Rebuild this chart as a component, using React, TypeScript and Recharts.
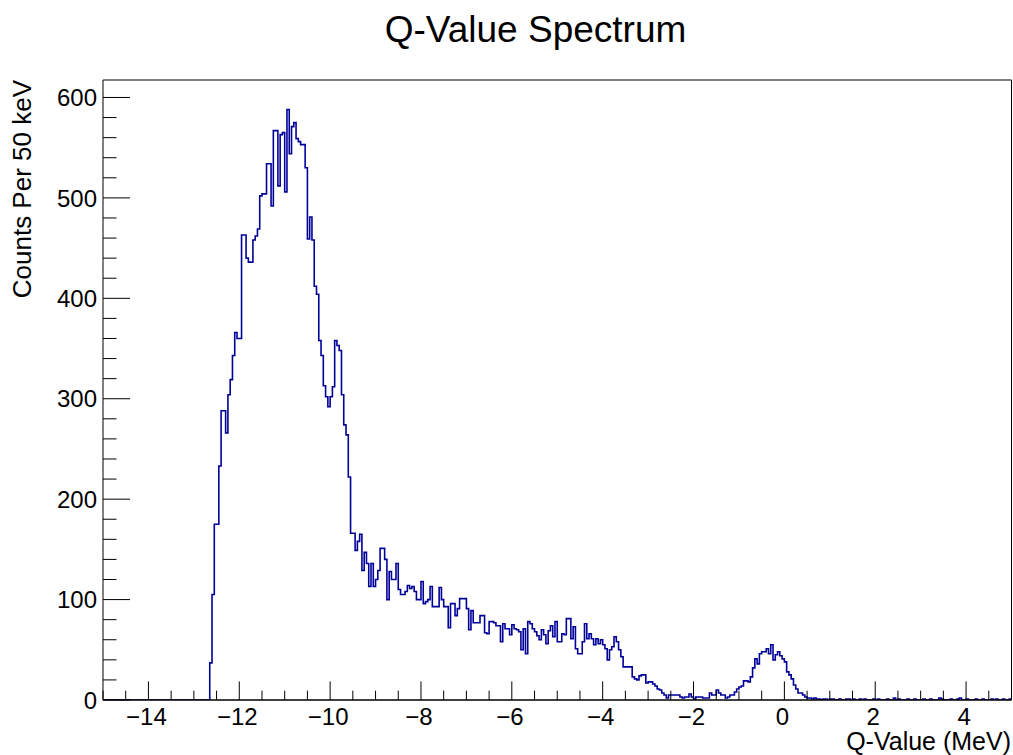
import React from 'react';
import { LineChart, Line, XAxis, YAxis, ReferenceLine } from 'recharts';

// Histogram: Q-value, 400 bins of 50 keV from -15 MeV to +5 MeV
const Q_MIN = -15;
const Q_MAX = 5;
const BIN_WIDTH = 0.05;
const Y_MAX = 617.4;

const counts: number[] = [
  0, 0, 0, 0, 0, 0, 0, 0, 0, 0,
  0, 0, 0, 0, 0, 0, 0, 0, 0, 0,
  0, 0, 0, 0, 0, 0, 0, 0, 0, 0,
  0, 0, 0, 0, 0, 0, 0, 0, 0, 0,
  0, 0, 0, 0, 0, 0, 0, 37, 105, 175,
  175, 233, 288, 288, 266, 304, 319, 343, 366, 360,
  360, 463, 463, 440, 436, 436, 458, 462, 469, 502,
  504, 504, 534, 534, 492, 567, 567, 512, 563, 565,
  506, 588, 544, 571, 575, 559, 556, 553, 553, 530,
  459, 481, 458, 412, 404, 358, 343, 313, 302, 292,
  302, 312, 358, 353, 348, 304, 274, 264, 222, 166,
  166, 149, 158, 165, 129, 147, 136, 113, 136, 113,
  120, 129, 151, 151, 140, 100, 128, 120, 120, 136,
  110, 105, 105, 108, 114, 111, 113, 108, 100, 100,
  118, 96, 98, 100, 113, 93, 93, 93, 112, 100,
  93, 93, 72, 96, 96, 84, 91, 101, 101, 101,
  91, 70, 89, 77, 77, 77, 84, 84, 67, 66,
  78, 78, 77, 74, 74, 58, 76, 71, 71, 65,
  75, 71, 70, 68, 50, 71, 46, 78, 76, 71,
  68, 64, 60, 70, 65, 56, 69, 74, 63, 78,
  58, 58, 66, 65, 81, 81, 61, 73, 51, 46,
  46, 58, 76, 61, 66, 61, 55, 61, 56, 60,
  55, 51, 40, 50, 53, 63, 58, 50, 43, 33,
  33, 33, 33, 23, 21, 20, 24, 25, 25, 17,
  18, 18, 16, 14, 11, 10, 7, 5, 2, 5,
  5, 5, 5, 5, 3, 2, 3, 3, 6, 3,
  1, 3, 3, 3, 2, 2, 2, 7, 5, 5,
  10, 7, 5, 5, 2, 3, 5, 5, 8, 11,
  13, 14, 19, 19, 18, 23, 32, 41, 36, 46,
  48, 48, 51, 46, 55, 40, 45, 48, 44, 41,
  38, 28, 25, 21, 15, 11, 7, 7, 5, 3,
  2, 2, 1, 2, 1, 1, 0, 1, 1, 0,
  1, 1, 0, 0, 1, 0, 0, 1, 1, 0,
  1, 0, 0, 1, 0, 1, 0, 0, 0, 1,
  0, 1, 0, 0, 0, 1, 0, 0, 2, 0,
  1, 0, 0, 0, 1, 0, 0, 1, 0, 0,
  0, 1, 0, 0, 1, 0, 0, 0, 2, 1,
  0, 0, 0, 1, 0, 0, 1, 2, 0, 0,
  1, 0, 0, 0, 1, 0, 0, 1, 0, 0,
  0, 1, 0, 1, 0, 0, 1, 0, 0, 1,
];

const X_TICKS: number[] = [
  -15, -14.5, -14, -13.5, -13, -12.5, -12, -11.5, -11, -10.5,
  -10, -9.5, -9, -8.5, -8, -7.5, -7, -6.5, -6, -5.5,
  -5, -4.5, -4, -3.5, -3, -2.5, -2, -1.5, -1, -0.5,
  0, 0.5, 1, 1.5, 2, 2.5, 3, 3.5, 4, 4.5, 5,
];
const X_LABELED: number[] = [-14, -12, -10, -8, -6, -4, -2, 0, 2, 4];

const Y_TICKS: number[] = [
  0, 20, 40, 60, 80, 100, 120, 140, 160, 180, 200, 220, 240, 260, 280,
  300, 320, 340, 360, 380, 400, 420, 440, 460, 480, 500, 520, 540, 560, 580, 600,
];
const Y_LABELED: number[] = [0, 100, 200, 300, 400, 500, 600];

const TITLE = 'Q-Value Spectrum';
const X_TITLE = 'Q-Value (MeV)';
const Y_TITLE = 'Counts Per 50 keV';

const FONT = '"Liberation Sans", Arial, Helvetica, sans-serif';
const LINE_COLOR = '#000099';

const data = counts.map((c, i) => ({ q: +(Q_MIN + i * BIN_WIDTH).toFixed(2), c }));
data.push({ q: Q_MAX, c: counts[counts.length - 1] });

const fmt = (v: number) => (v < 0 ? '\u2212' + Math.abs(v) : String(v));

const XTick = (props: any) => {
  const { x, y, payload } = props;
  const v = payload.value as number;
  const major = X_LABELED.includes(v);
  const len = major ? 18.6 : 9.3;
  return (
    <g>
      <line x1={x} y1={y} x2={x} y2={y - len} stroke="#000" strokeWidth={1} />
      {major && (
        <text x={x - 2} y={y + 25} textAnchor="middle" fontSize={24} fontFamily={FONT} fill="#000">
          {fmt(v)}
        </text>
      )}
    </g>
  );
};

const YTick = (props: any) => {
  const { x, y, payload } = props;
  const v = payload.value as number;
  const major = Y_LABELED.includes(v);
  const len = major ? 27 : 13.5;
  return (
    <g>
      <line x1={x} y1={y} x2={x + len} y2={y} stroke="#000" strokeWidth={1} />
      {major && (
        <text x={x - 6} y={y} dy="0.36em" textAnchor="end" fontSize={24} fontFamily={FONT} fill="#000">
          {fmt(v)}
        </text>
      )}
    </g>
  );
};

export default function App() {
  return (
    <div style={{ position: 'absolute', left: 0, top: 0, width: 1013, height: 755, background: '#fff' }}>
      <LineChart
        width={1013}
        height={755}
        data={data}
        margin={{ top: 80, right: 1.5, left: 0, bottom: 0 }}
      >
        <XAxis
          dataKey="q"
          type="number"
          domain={[Q_MIN, Q_MAX]}
          ticks={X_TICKS}
          interval={0}
          height={55}
          tickSize={0}
          tickMargin={0}
          tickLine={false}
          axisLine={{ stroke: '#000', strokeWidth: 1 }}
          tick={<XTick />}
          allowDataOverflow
        />
        <YAxis
          type="number"
          domain={[0, Y_MAX]}
          ticks={Y_TICKS}
          interval={0}
          width={103}
          tickSize={0}
          tickMargin={0}
          tickLine={false}
          axisLine={{ stroke: '#000', strokeWidth: 1 }}
          tick={<YTick />}
          allowDataOverflow
        />
        <Line
          type="stepAfter"
          dataKey="c"
          stroke={LINE_COLOR}
          strokeWidth={1.6}
          dot={false}
          activeDot={false}
          isAnimationActive={false}
        />
        <ReferenceLine y={0} stroke="#000" strokeWidth={1} />
        <ReferenceLine y={Y_MAX} stroke="#000" strokeWidth={1} />
        <ReferenceLine x={Q_MAX} stroke="#000" strokeWidth={1} />
      </LineChart>
      <svg
        width={1013}
        height={755}
        style={{ position: 'absolute', left: 0, top: 0, pointerEvents: 'none' }}
      >
        <text x={535.5} y={42} textAnchor="middle" fontSize={37} fontFamily={FONT} fill="#000">
          {TITLE}
        </text>
        <text x={1011} y={750} textAnchor="end" fontSize={25} fontFamily={FONT} fill="#000">
          {X_TITLE}
        </text>
        <text
          transform="translate(31,80) rotate(-90)"
          textAnchor="end"
          fontSize={26}
          fontFamily={FONT}
          fill="#000"
        >
          {Y_TITLE}
        </text>
      </svg>
    </div>
  );
}
